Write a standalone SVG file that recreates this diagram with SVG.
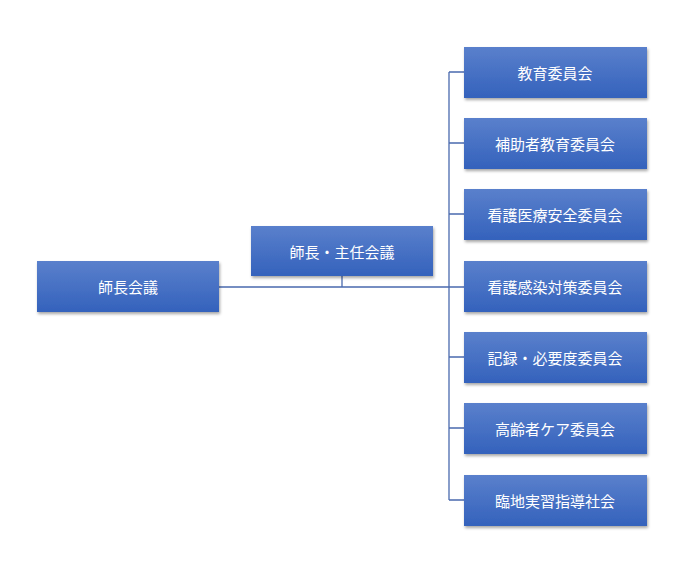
<svg xmlns="http://www.w3.org/2000/svg" width="700" height="585" viewBox="0 0 700 585">
<style>
.b{fill:url(#g);filter:url(#s)}
.t{font-family:"Noto Sans CJK JP",sans-serif;font-size:15px;fill:#fff;text-anchor:middle;dominant-baseline:central}
.c{stroke:#4a6aae;stroke-width:1.3;fill:none}
</style>
<defs>
<linearGradient id="g" x1="0" y1="0" x2="0" y2="1"><stop offset="0" stop-color="#5a80cc"/><stop offset="1" stop-color="#3462bc"/></linearGradient>
<filter id="s" x="-10%" y="-20%" width="120%" height="150%"><feDropShadow dx="1" dy="2" stdDeviation="1.5" flood-color="#000" flood-opacity="0.35"/></filter>
</defs>
<rect width="700" height="585" fill="#fff"/>
<g id="connectors" class="c">
<path d="M219 287H464M342 276V287M449 72V500M449 72H464M449 143H464M449 214H464M449 357H464M449 428H464M449 500H464"/>
</g>
<g id="n0"><rect class="b" x="37" y="261" width="182" height="51"/><text class="t" x="128" y="286">師長会議</text></g>
<g id="n1"><rect class="b" x="251" y="226" width="182" height="50"/><text class="t" x="342" y="251">師長・主任会議</text></g>
<g id="n2"><rect class="b" x="464" y="47" width="183" height="51"/><text class="t" x="555" y="72">教育委員会</text></g>
<g id="n3"><rect class="b" x="464" y="118" width="183" height="51"/><text class="t" x="555" y="143">補助者教育委員会</text></g>
<g id="n4"><rect class="b" x="464" y="189" width="183" height="51"/><text class="t" x="555" y="214">看護医療安全委員会</text></g>
<g id="n5"><rect class="b" x="464" y="261" width="183" height="51"/><text class="t" x="555" y="286">看護感染対策委員会</text></g>
<g id="n6"><rect class="b" x="464" y="332" width="183" height="51"/><text class="t" x="555" y="357">記録・必要度委員会</text></g>
<g id="n7"><rect class="b" x="464" y="403" width="183" height="51"/><text class="t" x="555" y="428">高齢者ケア委員会</text></g>
<g id="n8"><rect class="b" x="464" y="475" width="183" height="51"/><text class="t" x="555" y="500">臨地実習指導社会</text></g>
</svg>
